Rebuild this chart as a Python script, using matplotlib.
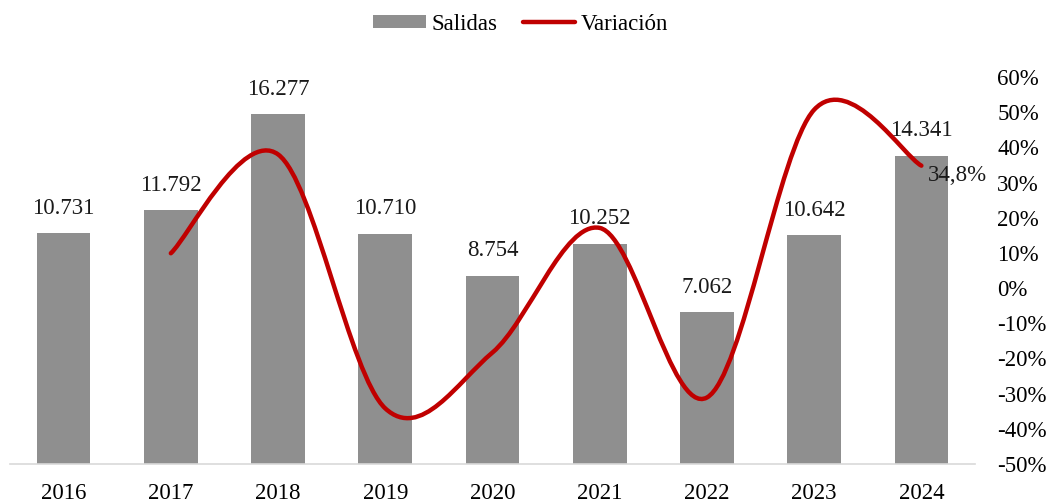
import matplotlib

matplotlib.use("Agg")
import matplotlib.pyplot as plt
from matplotlib.path import Path
from matplotlib.patches import PathPatch, Patch
from matplotlib.lines import Line2D

BAR_GRAY = "#8f8f8f"
LINE_RED = "#c00000"
AXIS_GRAY = "#d9d9d9"

years = ["2016", "2017", "2018", "2019", "2020", "2021", "2022", "2023", "2024"]
salidas = [10731, 11792, 16277, 10710, 8754, 10252, 7062, 10642, 14341]
salidas_labels = ["10.731", "11.792", "16.277", "10.710", "8.754",
                  "10.252", "7.062", "10.642", "14.341"]
# year-over-year change in %, first year has none
variacion = [None, 9.9, 38.0, -34.2, -18.3, 17.1, -31.1, 50.7, 34.8]
pct_ticks = [-50, -40, -30, -20, -10, 0, 10, 20, 30, 40, 50, 60]

plt.rcParams["font.family"] = ["Liberation Serif", "DejaVu Serif"]
FS = 16.5


def smooth_path(xs, ys):
    # Excel-style smoothed line: Catmull-Rom segments turned into cubic Beziers
    pts = list(zip(xs, ys))
    verts = [pts[0]]
    codes = [Path.MOVETO]
    n = len(pts)
    for i in range(n - 1):
        p0 = pts[i - 1] if i > 0 else pts[i]
        p1, p2 = pts[i], pts[i + 1]
        p3 = pts[i + 2] if i + 2 < n else pts[i + 1]
        c1 = (p1[0] + (p2[0] - p0[0]) / 6, p1[1] + (p2[1] - p0[1]) / 6)
        c2 = (p2[0] - (p3[0] - p1[0]) / 6, p2[1] - (p3[1] - p1[1]) / 6)
        verts += [c1, c2, p2]
        codes += [Path.CURVE4] * 3
    return Path(verts, codes)


fig = plt.figure(figsize=(10.52, 5.03), dpi=100)
ax = fig.add_axes([10 / 1052, 39 / 503, 965 / 1052, 387 / 503])
ax2 = ax.twinx()

x = list(range(len(years)))
ax.bar(x, salidas, width=0.5, color=BAR_GRAY, zorder=2)
ax.set_xlim(-0.5, len(years) - 0.5)
ax.set_ylim(0, 18000)
ax.set_yticks([])
ax.set_xticks(x)
ax.set_xticklabels(years, fontsize=FS)
ax.tick_params(axis="x", length=0, pad=14)
for side in ["top", "left", "right"]:
    ax.spines[side].set_visible(False)
ax2.spines[:].set_visible(False)
ax.spines["bottom"].set_color(AXIS_GRAY)
ax.spines["bottom"].set_linewidth(1.2)

for xi, v, lab in zip(x, salidas, salidas_labels):
    ax.annotate(lab, (xi, v), xytext=(0, 25), textcoords="offset pixels",
                ha="center", va="center", fontsize=FS, color="#1a1a1a")

# variation line on the right axis
vx = [xi for xi, v in zip(x, variacion) if v is not None]
vy = [v for v in variacion if v is not None]
ax2.set_ylim(-50, 60)
ax2.add_patch(PathPatch(smooth_path(vx, vy), facecolor="none",
                        edgecolor=LINE_RED, lw=3.2, capstyle="round", zorder=3))
ax2.set_yticks(pct_ticks)
ax2.set_yticklabels([f"{t}%" for t in pct_ticks], fontsize=FS)
ax2.tick_params(axis="y", length=0, pad=16)
ax2.annotate("34,8%", (vx[-1], vy[-1]), xytext=(6, -10), textcoords="offset pixels",
             ha="left", va="center", fontsize=FS, color="#1a1a1a")

handles = [Patch(facecolor=BAR_GRAY, edgecolor="none"),
           Line2D([0], [0], color=LINE_RED, lw=3.2, solid_capstyle="round")]
fig.legend(handles, ["Salidas", "Variación"], loc="center",
           bbox_to_anchor=(0.495, 0.952), ncol=2, frameon=False, fontsize=FS,
           handlelength=2.3, handleheight=0.5, handletextpad=0.25,
           columnspacing=1.1)

fig.savefig("out.png", dpi=100, facecolor="white")
